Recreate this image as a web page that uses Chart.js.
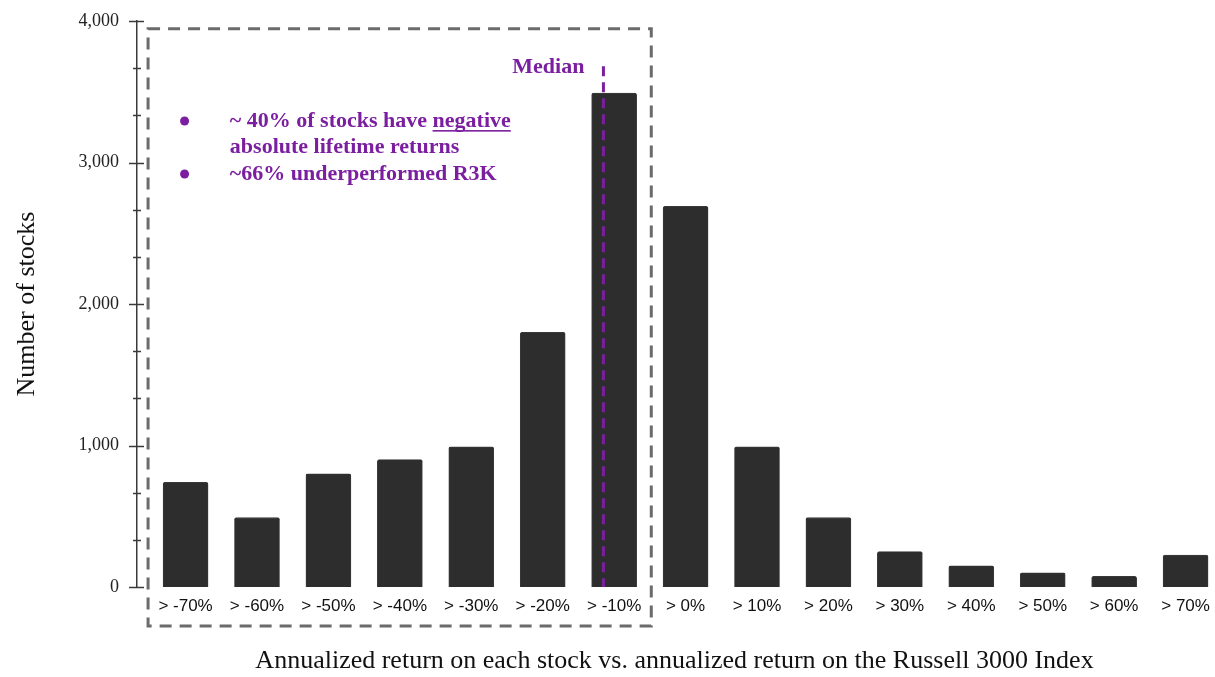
<!DOCTYPE html>
<html lang="en">

<head>
    <meta charset="UTF-8">
    <title>Lifetime returns vs. Russell 3000</title>
    <script src="https://cdn.jsdelivr.net/npm/chart.js"></script>
    <style>
        body {
            margin: 0;
            background: #fff;
        }

        #chart-container {
            width: 1215px;
            height: 677px;
        }
    </style>
</head>

<body>
    <div id="chart-container">
        <canvas id="returnsChart"></canvas>
    </div>

    <script>
        // Return buckets and how many stocks fall into each one
        const buckets = ['> -70%', '> -60%', '> -50%', '> -40%', '> -30%', '> -20%', '> -10%',
            '> 0%', '> 10%', '> 20%', '> 30%', '> 40%', '> 50%', '> 60%', '> 70%'];
        const stockCounts = [740, 490, 800, 900, 990, 1800, 3490, 2690, 990, 490, 250, 150, 100, 75, 225];
        const yLabelValues = [0, 1000, 2000, 3000, 4000];
        const minorTickStep = 1000 / 3;

        // Median marker sits inside the "> -10%" bucket
        const medianAt = 5.85;
        const medianTop = 3680;
        // Dashed outline around the underperforming buckets (in scale units)
        const boxRange = { xMin: -0.525, xMax: 6.52, yMin: -275, yMax: 3945 };
        const notes = [
            { bullet: true, text: '~ 40% of stocks have ', underlined: 'negative', at: 3293 },
            { bullet: false, text: 'absolute lifetime returns', underlined: '', at: 3110 },
            { bullet: true, text: '~66% underperformed R3K', underlined: '', at: 2919 }
        ];

        const serif = "'Liberation Serif', 'Times New Roman', serif";
        const sans = "'Liberation Sans', Arial, sans-serif";
        const purple = '#7b1fa0';
        const axisColor = '#3a3a3a';

        const annotations = {
            id: 'annotations',
            afterDatasetsDraw(chart) {
                const { ctx, scales: { x, y } } = chart;
                const axisX = chart.chartArea.left;
                ctx.save();

                // tick marks on the y axis: long ones on labels, short ones in between
                ctx.strokeStyle = axisColor;
                ctx.lineWidth = 1.5;
                for (let v = 0; v <= 4000 + 1; v += minorTickStep) {
                    const py = Math.round(y.getPixelForValue(v)) + 0.5;
                    const major = Math.abs(v / 1000 - Math.round(v / 1000)) < 1e-6;
                    ctx.beginPath();
                    ctx.moveTo(axisX - (major ? 8 : 4), py);
                    ctx.lineTo(axisX + (major ? 7 : 4), py);
                    ctx.stroke();
                }

                // dashed box
                ctx.strokeStyle = '#6b6b6b';
                ctx.lineWidth = 3;
                ctx.setLineDash([12, 8]);
                const bx1 = x.getPixelForValue(boxRange.xMin);
                const bx2 = x.getPixelForValue(boxRange.xMax);
                const by1 = y.getPixelForValue(boxRange.yMax);
                const by2 = y.getPixelForValue(boxRange.yMin);
                ctx.strokeRect(bx1, by1, bx2 - bx1, by2 - by1);

                // median line
                const mx = x.getPixelForValue(medianAt);
                ctx.strokeStyle = purple;
                ctx.lineWidth = 3;
                ctx.setLineDash([10, 6]);
                ctx.beginPath();
                ctx.moveTo(mx, y.getPixelForValue(medianTop));
                ctx.lineTo(mx, y.getPixelForValue(0));
                ctx.stroke();
                ctx.setLineDash([]);

                ctx.fillStyle = purple;
                ctx.font = 'bold 22px ' + serif;
                ctx.textAlign = 'right';
                ctx.textBaseline = 'middle';
                ctx.fillText('Median', mx - 19, y.getPixelForValue(medianTop - 4));

                // bullet notes
                ctx.textAlign = 'left';
                const bulletX = x.getPixelForValue(0) - 1;
                const textX = x.getPixelForValue(0.62);
                notes.forEach(n => {
                    const py = y.getPixelForValue(n.at);
                    if (n.bullet) {
                        ctx.beginPath();
                        ctx.arc(bulletX, py, 4.5, 0, Math.PI * 2);
                        ctx.fill();
                    }
                    ctx.fillText(n.text, textX, py);
                    if (n.underlined) {
                        const ux = textX + ctx.measureText(n.text).width;
                        const uw = ctx.measureText(n.underlined).width;
                        ctx.fillText(n.underlined, ux, py);
                        ctx.fillRect(ux, py + 9, uw, 1.6);
                    }
                });

                ctx.restore();
            }
        };

        const ctx = document.getElementById('returnsChart').getContext('2d');
        new Chart(ctx, {
            type: 'bar',
            data: {
                datasets: [{
                    data: stockCounts.map((v, i) => ({ x: i, y: v })),
                    backgroundColor: '#2d2d2d',
                    borderColor: '#3c3c3c',
                    borderWidth: 0.8,
                    borderRadius: 2,
                    borderSkipped: 'bottom',
                    barThickness: 45
                }]
            },
            options: {
                responsive: true,
                maintainAspectRatio: false,
                devicePixelRatio: 1,
                animation: false,
                layout: { padding: { top: 21, right: 3, left: 0, bottom: 0 } },
                plugins: {
                    legend: { display: false },
                    tooltip: { enabled: false }
                },
                scales: {
                    x: {
                        type: 'linear',
                        offset: false,
                        min: -0.68,
                        max: 14.37,
                        afterBuildTicks: scale => {
                            scale.ticks = buckets.map((_, i) => ({ value: i }));
                        },
                        afterFit: scale => {
                            scale.height = 90;
                            scale.paddingLeft = 0;
                            scale.paddingRight = 0;
                        },
                        grid: { display: false, drawTicks: false },
                        border: { display: false },
                        ticks: {
                            autoSkip: false,
                            maxRotation: 0,
                            padding: 9,
                            color: '#111',
                            font: { family: sans, size: 17 },
                            callback: value => buckets[value]
                        },
                        title: {
                            display: true,
                            text: 'Annualized return on each stock vs. annualized return on the Russell 3000 Index',
                            color: '#111',
                            font: { family: serif, size: 26 },
                            padding: { top: 0, bottom: 0 }
                        }
                    },
                    y: {
                        min: 0,
                        max: 4000,
                        afterBuildTicks: scale => {
                            scale.ticks = yLabelValues.map(v => ({ value: v }));
                        },
                        afterFit: scale => {
                            scale.width = 137;
                            scale.paddingTop = 0;
                            scale.paddingBottom = 0;
                        },
                        grid: { display: false, drawTicks: false },
                        border: { display: true, color: axisColor, width: 1.5 },
                        ticks: {
                            padding: 18,
                            color: '#222',
                            font: { family: serif, size: 18 },
                            callback: value => value.toLocaleString('en-US')
                        },
                        title: {
                            display: true,
                            text: 'Number of stocks',
                            color: '#111',
                            font: { family: serif, size: 26 },
                            padding: { top: 12, bottom: 0 }
                        }
                    }
                }
            },
            plugins: [annotations]
        });
    </script>
</body>

</html>
